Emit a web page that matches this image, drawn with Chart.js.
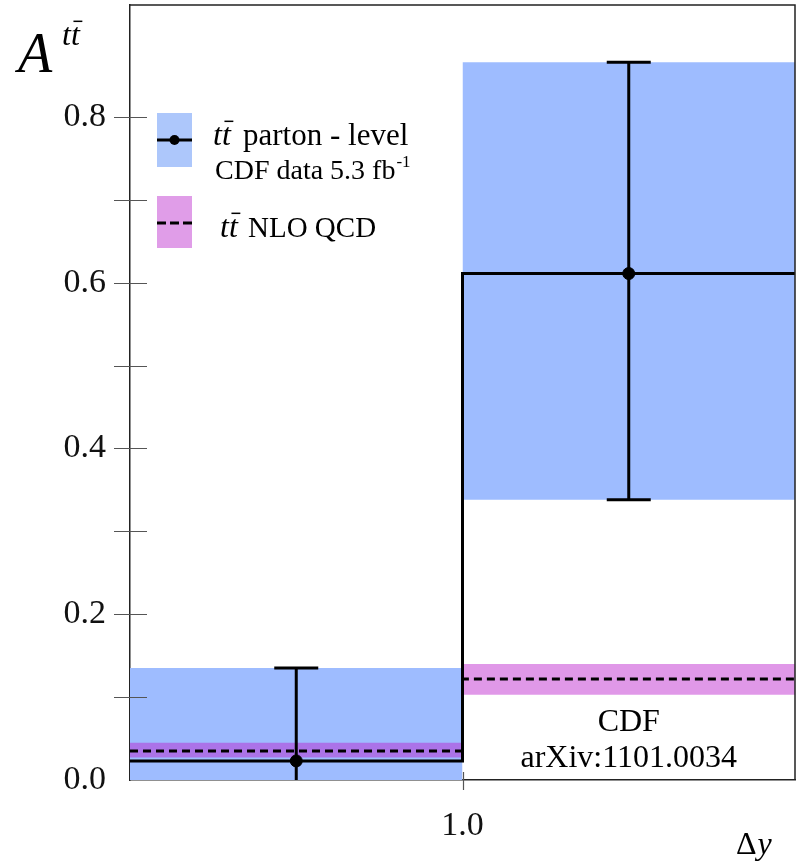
<!DOCTYPE html>
<html>
<head>
<meta charset="utf-8">
<script src="https://cdn.jsdelivr.net/npm/chart.js@4.4.0/dist/chart.umd.min.js"></script>
<style>
  html, body { margin: 0; padding: 0; background: #fff; }
</style>
</head>
<body>
<canvas id="asymChart" width="801" height="861"></canvas>
<script>
// bins in delta y
var binEdges = [0, 1, 2];
var binCenters = [0.5, 1.5];

// CDF parton-level asymmetry (value, total error band)
var dataValues = [0.023, 0.611];
var dataLow = [-0.095, 0.338];
var dataHigh = [0.135, 0.866];

// NLO QCD prediction
var nloValues = [0.035, 0.122];
var nloLow = [0.027, 0.103];
var nloHigh = [0.045, 0.140];

// tick labels
var yTickLabels = ['0.0', '0.2', '0.4', '0.6', '0.8'];
var xTickLabels = ['1.0'];

var serif = '"Liberation Serif", "Times New Roman", serif';
var blueBand = '#9ebcff';
var pinkBand = 'rgba(186, 27, 204, 0.45)';

function stepPoints(values) {
    var pts = [];
    for (var i = 0; i < values.length; i++) {
        pts.push({ x: binEdges[i], y: values[i] });
        pts.push({ x: binEdges[i + 1], y: values[i] });
    }
    return pts;
}

// no automatic label padding, the plot box is placed by hand
function fixPadding(scale) {
    scale.paddingTop = 0;
    scale.paddingBottom = 0;
    scale.paddingLeft = 0;
    scale.paddingRight = 0;
}

var datasets = [];

// blue uncertainty boxes for the data
for (var i = 0; i < dataValues.length; i++) {
    datasets.push({
        data: [{ x: binEdges[i], y: dataHigh[i] }, { x: binEdges[i + 1], y: dataHigh[i] }],
        fill: { value: dataLow[i] },
        backgroundColor: blueBand,
        borderColor: 'rgba(0,0,0,0)',
        borderWidth: 0,
        pointRadius: 0,
        clip: 0,
        order: 10
    });
}

// pink band for NLO
for (var j = 0; j < nloValues.length; j++) {
    datasets.push({
        data: [{ x: binEdges[j], y: nloHigh[j] }, { x: binEdges[j + 1], y: nloHigh[j] }],
        fill: { value: nloLow[j] },
        backgroundColor: pinkBand,
        borderColor: 'rgba(0,0,0,0)',
        borderWidth: 0,
        pointRadius: 0,
        clip: 0,
        order: 9
    });
}

// NLO central value, dashed
datasets.push({
    data: stepPoints(nloValues),
    borderColor: '#000',
    borderWidth: 3,
    borderDash: [8, 5],
    pointRadius: 0,
    fill: false,
    clip: 0,
    order: 4
});

// data histogram, solid
datasets.push({
    data: stepPoints(dataValues),
    borderColor: '#000',
    borderWidth: 3,
    pointRadius: 0,
    fill: false,
    clip: 0,
    order: 3
});

// error bars with caps
for (var k = 0; k < dataValues.length; k++) {
    datasets.push({
        data: [{ x: binCenters[k], y: dataLow[k] }, { x: binCenters[k], y: dataHigh[k] }],
        borderColor: '#000',
        borderWidth: 3,
        pointStyle: 'line',
        pointRadius: 22,
        pointBorderWidth: 3,
        pointBorderColor: '#000',
        fill: false,
        clip: 0,
        order: 2
    });
}

// central markers
datasets.push({
    data: binCenters.map(function (c, n) { return { x: c, y: dataValues[n] }; }),
    showLine: false,
    pointRadius: 6,
    pointBackgroundColor: '#000',
    pointBorderColor: '#000',
    clip: 0,
    order: 1
});

function drawTT(ctx, x, y, size) {
    ctx.font = 'italic ' + size + 'px ' + serif;
    ctx.fillText('tt', x, y);
    var w1 = ctx.measureText('t').width;
    var w2 = ctx.measureText('tt').width;
    ctx.beginPath();
    ctx.lineWidth = 1.5;
    ctx.moveTo(x + w1 + size * 0.08, y - size * 0.74);
    ctx.lineTo(x + w2 + size * 0.08, y - size * 0.74);
    ctx.stroke();
    return w2;
}

var decorPlugin = {
    id: 'decor',
    afterDraw: function (chart) {
        var ctx = chart.ctx;
        var area = chart.chartArea;
        var xs = chart.scales.x;
        var ys = chart.scales.y;
        ctx.save();

        // top and right frame
        ctx.strokeStyle = '#222';
        ctx.lineWidth = 1.5;
        ctx.beginPath();
        ctx.moveTo(area.left, area.top);
        ctx.lineTo(area.right, area.top);
        ctx.lineTo(area.right, area.bottom);
        ctx.stroke();

        // tick marks crossing the axes
        ctx.strokeStyle = '#555';
        ctx.lineWidth = 1.2;
        ys.ticks.forEach(function (t) {
            if (t.value < 0.05 || t.value > 0.85) return;
            var py = Math.round(ys.getPixelForValue(t.value)) + 0.5;
            ctx.beginPath();
            ctx.moveTo(area.left - 16, py);
            ctx.lineTo(area.left + 17, py);
            ctx.stroke();
        });
        xs.ticks.forEach(function (t) {
            if (t.value <= binEdges[0] || t.value >= binEdges[binEdges.length - 1]) return;
            var px = Math.round(xs.getPixelForValue(t.value)) + 0.5;
            ctx.beginPath();
            ctx.moveTo(px, area.bottom - 8);
            ctx.lineTo(px, area.bottom + 10);
            ctx.stroke();
        });

        ctx.fillStyle = '#000';
        ctx.strokeStyle = '#000';
        ctx.textBaseline = 'alphabetic';
        ctx.textAlign = 'left';

        // y title A^{tt}
        ctx.font = 'italic 56px ' + serif;
        ctx.fillText('A', 18, 72);
        drawTT(ctx, 62, 45, 32);

        // x title
        ctx.font = '32px ' + serif;
        ctx.fillText('\u0394', 736, 854);
        var dw = ctx.measureText('\u0394').width;
        ctx.font = 'italic 32px ' + serif;
        ctx.fillText('y', 736 + dw + 1, 854);

        // legend
        ctx.fillStyle = '#adc7fb';
        ctx.fillRect(157, 113, 35, 54);
        ctx.fillStyle = '#e09de8';
        ctx.fillRect(157, 196, 35, 52);

        ctx.strokeStyle = '#000';
        ctx.fillStyle = '#000';
        ctx.lineWidth = 3;
        ctx.beginPath();
        ctx.moveTo(157, 140);
        ctx.lineTo(192, 140);
        ctx.stroke();
        ctx.beginPath();
        ctx.arc(174.5, 140, 5, 0, Math.PI * 2);
        ctx.fill();

        ctx.setLineDash([9, 4]);
        ctx.beginPath();
        ctx.moveTo(157, 223);
        ctx.lineTo(192, 223);
        ctx.stroke();
        ctx.setLineDash([]);

        drawTT(ctx, 213, 145, 32);
        ctx.font = '31px ' + serif;
        ctx.fillText('parton - level', 243, 145);
        ctx.font = '28px ' + serif;
        ctx.fillText('CDF data 5.3 fb', 215, 179);
        var fw = ctx.measureText('CDF data 5.3 fb').width;
        ctx.font = '17px ' + serif;
        ctx.fillText('-1', 215 + fw + 1, 167);

        drawTT(ctx, 220, 237, 32);
        ctx.font = '29px ' + serif;
        ctx.fillText('NLO QCD', 248, 237);

        // experiment annotation
        var cx = xs.getPixelForValue(binCenters[1]);
        ctx.textAlign = 'center';
        ctx.font = '32px ' + serif;
        ctx.fillText('CDF', cx, 731);
        ctx.fillText('arXiv:1101.0034', cx, 767);

        ctx.restore();
    }
};

var ctx = document.getElementById('asymChart').getContext('2d');
new Chart(ctx, {
    type: 'line',
    data: { datasets: datasets },
    options: {
        responsive: false,
        animation: false,
        events: [],
        layout: { autoPadding: false, padding: { top: 5, right: 6, left: 0, bottom: 0 } },
        plugins: {
            legend: { display: false },
            tooltip: { enabled: false }
        },
        scales: {
            x: {
                type: 'linear',
                min: binEdges[0],
                max: binEdges[binEdges.length - 1],
                grid: { display: false, drawTicks: false },
                border: { display: true, color: '#222', width: 1.5 },
                ticks: {
                    stepSize: 1,
                    padding: 26,
                    color: '#111',
                    font: { family: serif, size: 34 },
                    callback: function (value) {
                        var s = Number(value).toFixed(1);
                        return xTickLabels.indexOf(s) >= 0 ? s : '';
                    }
                },
                afterFit: function (scale) { scale.height = 81; fixPadding(scale); }
            },
            y: {
                type: 'linear',
                min: 0,
                max: 0.935,
                grid: { display: false, drawTicks: false },
                border: { display: true, color: '#222', width: 1.5 },
                ticks: {
                    stepSize: 0.1,
                    padding: 24,
                    color: '#111',
                    font: { family: serif, size: 34 },
                    callback: function (value) {
                        var s = Number(value).toFixed(1);
                        return yTickLabels.indexOf(s) >= 0 ? s : '';
                    }
                },
                afterFit: function (scale) { scale.width = 130; fixPadding(scale); }
            }
        }
    },
    plugins: [decorPlugin]
});
</script>
</body>
</html>
